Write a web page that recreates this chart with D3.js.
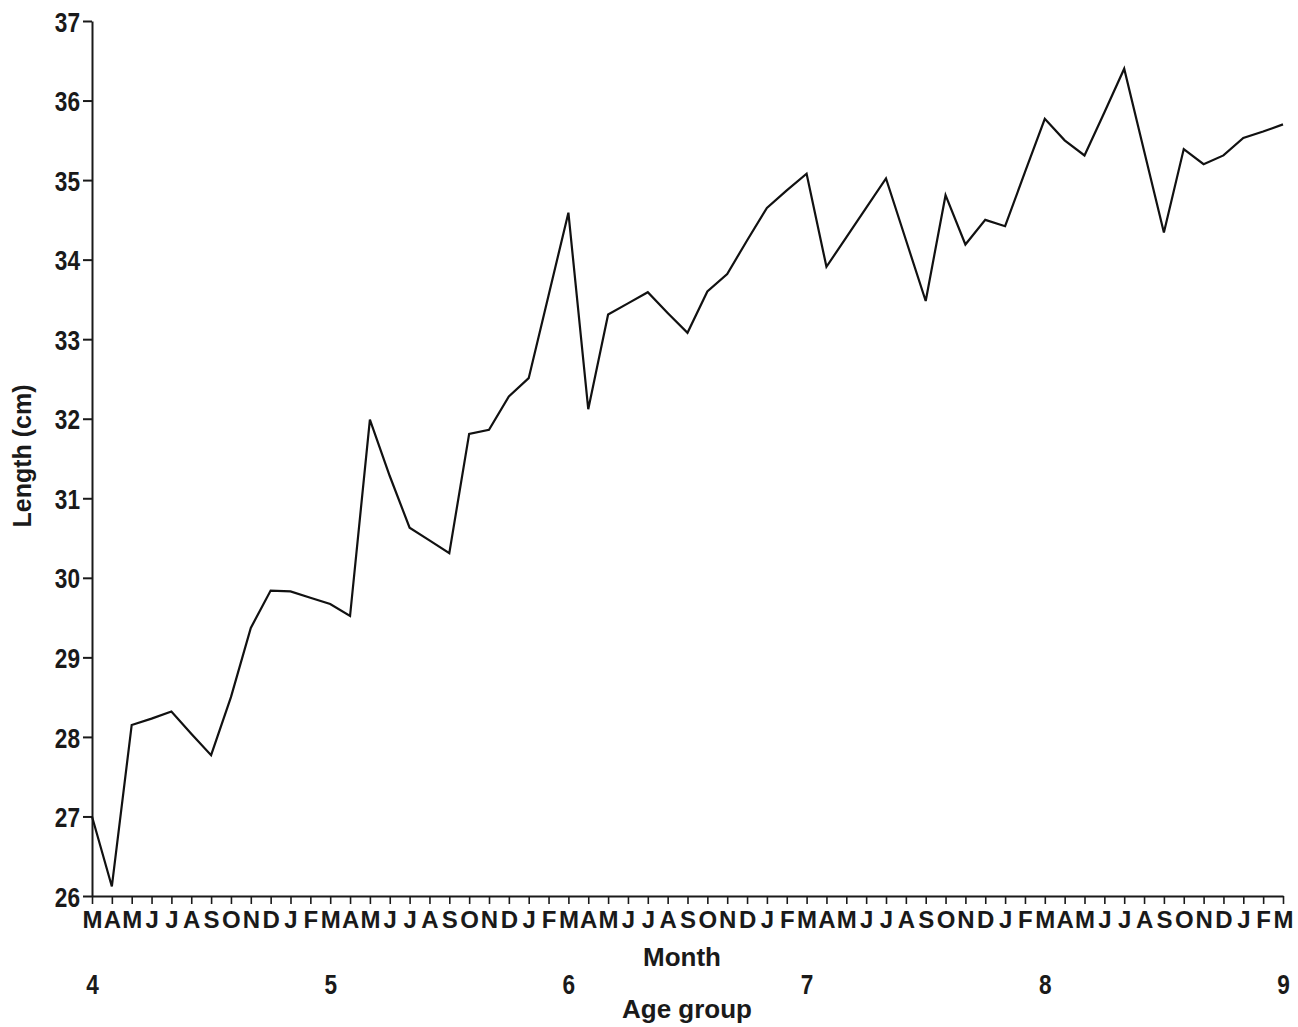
<!DOCTYPE html>
<html>
<head>
<meta charset="utf-8">
<script src="https://cdn.jsdelivr.net/npm/d3@7"></script>
<style>
  html, body { margin: 0; padding: 0; background: #fff; }
  svg { display: block; }
  .bold { font-family: "Liberation Sans", Arial, Helvetica, sans-serif; font-weight: bold; }
</style>
</head>
<body>
<svg id="chart" width="1298" height="1027"></svg>
<script>
// Month initials along the time axis, March of age 4 through March of age 9
const monthCycle = ["M", "A", "M", "J", "J", "A", "S", "O", "N", "D", "J", "F"];
const monthLabels = [...monthCycle, ...monthCycle, ...monthCycle, ...monthCycle, ...monthCycle, "M"];

// Mean length (cm) for each month, index 0 = March at age 4
const lengthCm = [
  27.00, 26.12, 28.15, 28.23, 28.32, 28.04, 27.77, 28.50, 29.37, 29.84,
  29.83, 29.75, 29.67, 29.52, 31.99, 31.28, 30.63, 30.47, 30.31, 31.81,
  31.86, 32.28, 32.51, 33.55, 34.59, 32.12, 33.31, 33.45, 33.59, 33.33,
  33.08, 33.60, 33.82, 34.24, 34.65, 34.87, 35.08, 33.91, 34.28, 34.65,
  35.02, 34.25, 33.48, 34.81, 34.19, 34.50, 34.42, 35.10, 35.77, 35.50,
  35.31, 35.85, 36.40, 35.37, 34.34, 35.39, 35.20, 35.31, 35.53, 35.61,
  35.70
];

// Age group markers, placed at each March
const ageGroups = [4, 5, 6, 7, 8, 9];
const ageIndex = [0, 12, 24, 36, 48, 60];

// Y axis ticks
const yTicks = [26, 27, 28, 29, 30, 31, 32, 33, 34, 35, 36, 37];

const svg = d3.select("#chart");
const plotLeft = 92, plotRight = 1283, plotTop = 21, plotBottom = 896;
const ink = "#1a1a1a";

const x = d3.scaleLinear().domain([0, monthLabels.length - 1]).range([plotLeft, plotRight]);
const y = d3.scaleLinear().domain([26, 37]).range([plotBottom, plotTop]);

// Condensed numerals: squeeze the glyphs to a narrower advance
function condense(sel, perChar) {
  sel.each(function () {
    const t = d3.select(this);
    const n = t.text().length;
    t.attr("textLength", n * perChar).attr("lengthAdjust", "spacingAndGlyphs");
  });
}

// Y axis
const yAxis = svg.append("g")
  .attr("transform", `translate(${plotLeft},0)`)
  .call(d3.axisLeft(y).tickValues(yTicks).tickFormat(d3.format("d"))
    .tickSize(9).tickSizeOuter(0).tickPadding(3));
yAxis.select(".domain").attr("stroke", ink).attr("stroke-width", 2);
yAxis.selectAll(".tick line").attr("stroke", ink).attr("stroke-width", 2);
yAxis.selectAll(".tick text")
  .attr("class", "bold")
  .attr("font-size", 28)
  .attr("dy", "0.36em")
  .attr("fill", ink)
  .call(condense, 12.6);

// Month axis
const xAxis = svg.append("g")
  .attr("transform", `translate(0,${plotBottom})`)
  .call(d3.axisBottom(x).tickValues(d3.range(monthLabels.length))
    .tickFormat(i => monthLabels[i]).tickSize(8).tickSizeOuter(0));
xAxis.select(".domain").attr("stroke", ink).attr("stroke-width", 2);
xAxis.selectAll(".tick line").attr("stroke", ink).attr("stroke-width", 1.6);
xAxis.selectAll(".tick text")
  .attr("class", "bold")
  .attr("font-size", 24)
  .attr("y", 32)
  .attr("dy", 0)
  .attr("fill", ink);

// Age group row
const ageAxis = svg.append("g")
  .attr("transform", `translate(0,994)`)
  .call(d3.axisBottom(x).tickValues(ageIndex)
    .tickFormat((d, i) => ageGroups[i]).tickSize(0).tickSizeOuter(0));
ageAxis.select(".domain").remove();
ageAxis.selectAll(".tick text")
  .attr("class", "bold")
  .attr("font-size", 27)
  .attr("y", 0)
  .attr("dy", 0)
  .attr("fill", ink)
  .call(condense, 12.6);

// Axis titles
svg.append("text")
  .attr("class", "bold")
  .attr("x", 682).attr("y", 966)
  .attr("text-anchor", "middle")
  .attr("font-size", 26)
  .attr("fill", ink)
  .text("Month");

svg.append("text")
  .attr("class", "bold")
  .attr("x", 687).attr("y", 1018)
  .attr("text-anchor", "middle")
  .attr("font-size", 26)
  .attr("fill", ink)
  .text("Age group");

svg.append("text")
  .attr("class", "bold")
  .attr("transform", "translate(31,456) rotate(-90)")
  .attr("text-anchor", "middle")
  .attr("font-size", 25)
  .attr("fill", ink)
  .text("Length (cm)");

// Length series
const line = d3.line()
  .x((d, i) => x(i))
  .y(d => y(d));

svg.append("path")
  .datum(lengthCm)
  .attr("d", line)
  .attr("fill", "none")
  .attr("stroke", "#111")
  .attr("stroke-width", 2.2)
  .attr("stroke-linejoin", "miter");
</script>
</body>
</html>
